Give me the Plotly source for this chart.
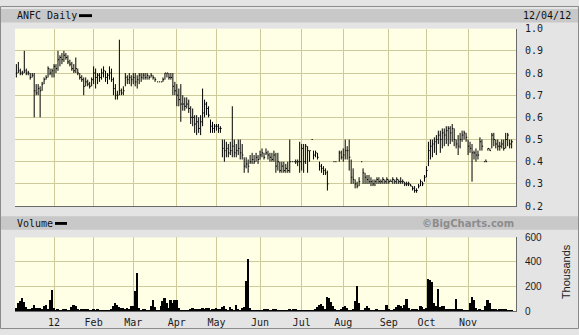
import plotly.graph_objects as go

# ---------------- data ----------------
month_starts = [19, 39, 59, 81, 101, 123, 144, 165, 188, 207, 228]
month_labels = ["12", "Feb", "Mar", "Apr", "May", "Jun", "Jul", "Aug", "Sep", "Oct", "Nov"]
price_ticks = [0.2, 0.3, 0.4, 0.5, 0.6, 0.7, 0.8, 0.9, 1.0]
price_labels = ["0.2", "0.3", "0.4", "0.5", "0.6", "0.7", "0.8", "0.9", "1.0"]
vol_ticks = [0, 200, 400, 600]
vol_labels = ["0", "200", "400", "600"]

high = [
    .84, .85, .82, .81, .90, .82, .81, .80, .80, .80,
    .75, .75, .74, .76, .78, .79, .83, .82, .82, .84,
    .84, .90, .88, .89, .90, .89, .88, .86, .85, .84,
    .87, .82, .80, .79, .78, .78, .77, .76, .78, .83,
    .82, .80, .80, .82, .83, .81, .80, .83, .82, .78,
    .75, .72, .95, .73, .74, .80, .79, .80, .79, .80,
    .80, .79, .80, .80, .80, .80, .80, .79, .80, .79,
    .78, .76, .76, .76, .78, .80, .80, .80, .80, .80,
    .76, .75, .73, .75, .70, .69, .69, .68, .65, .64,
    .61, .61, .60, .61, .73, .68, .67, .65, .59, .58,
    .57, .57, .57, .56, .50, .50, .49, .48, .49, .65,
    .50, .48, .50, .50, .48, .42, .42, .41, .43, .44,
    .43, .44, .43, .45, .46, .44, .46, .45, .44, .44,
    .45, .44, .44, .40, .40, .40, .39, .40, .50, .40,
    .40, .41, .41, .49, .48, .48, .48, .47, .45, .50,
    .45, .45, .44, .40, .39, .38, .37, .36, None, None,
    .40, .40, None, .45, .45, .46, .50, .47, .50, .41,
    .37, .32, .31, .33, .40, .37, .35, .34, .34, .33,
    .32, .32, .33, .33, .32, .33, .32, .33, .32, .32,
    .33, .32, .33, .32, .33, .32, .31, .31, .31, .30,
    .29, .29, .28, .30, .32, .31, .34, .38, .49, .50,
    .50, .51, .52, .54, .54, .55, .55, .56, .56, .56,
    .57, .55, .50, .52, .53, .54, .54, .53, .50, .49,
    .48, .45, .46, .45, .51, .50, .40, .41, .46, .46,
    .53, .53, .50, .50, .49, .50, .50, .53, .53, .50,
    .50]

low = [
    .78, .80, .79, .79, .80, .79, .79, .77, .78, .60,
    .70, .70, .60, .72, .75, .77, .78, .79, .78, .78,
    .80, .81, .83, .84, .85, .86, .84, .83, .81, .80,
    .80, .79, .77, .76, .70, .74, .74, .73, .74, .75,
    .73, .75, .76, .77, .78, .76, .75, .77, .76, .70,
    .68, .68, .70, .70, .70, .74, .75, .75, .74, .75,
    .74, .73, .75, .76, .77, .77, .77, .77, .78, .77,
    .76, .76, .76, .76, .76, .77, .78, .77, .77, .70,
    .70, .65, .65, .58, .63, .63, .64, .62, .57, .56,
    .53, .52, .53, .52, .56, .60, .61, .60, .53, .53,
    .53, .54, .53, .53, .42, .40, .42, .42, .43, .42,
    .42, .42, .43, .41, .41, .35, .37, .35, .39, .39,
    .39, .40, .39, .41, .42, .41, .43, .41, .40, .40,
    .40, .35, .36, .35, .35, .35, .35, .35, .35, .40,
    .40, .39, .38, .35, .36, .35, .39, .35, .40, .50,
    .41, .42, .41, .36, .35, .34, .34, .27, None, None,
    .40, .40, None, .40, .41, .40, .41, .41, .36, .30,
    .30, .28, .28, .29, .40, .30, .30, .30, .30, .29,
    .29, .29, .30, .30, .30, .30, .30, .30, .30, .31,
    .30, .30, .30, .30, .30, .30, .29, .29, .29, .29,
    .27, .26, .26, .28, .29, .29, .31, .33, .38, .41,
    .42, .44, .43, .48, .44, .46, .47, .48, .47, .48,
    .49, .47, .46, .43, .46, .49, .50, .49, .43, .44,
    .31, .41, .40, .41, .45, .45, .40, .40, .45, .45,
    .46, .47, .46, .45, .45, .46, .45, .46, .47, .46,
    .46]

close = [
    .80, .81, .80, .80, .81, .80, .80, .78, .79, .72,
    .71, .73, .72, .75, .77, .78, .82, .80, .81, .83,
    .82, .86, .87, .86, .88, .87, .85, .84, .82, .81,
    .82, .80, .78, .77, .74, .76, .75, .74, .77, .80,
    .78, .79, .78, .80, .81, .78, .79, .80, .77, .73,
    .70, .70, .72, .71, .72, .78, .77, .78, .77, .78,
    .76, .77, .79, .78, .79, .78, .79, .78, .79, .78,
    .77, .76, .76, .76, .77, .80, .80, .78, .78, .74,
    .72, .70, .68, .66, .66, .65, .66, .64, .60, .60,
    .57, .58, .55, .58, .62, .66, .64, .61, .56, .55,
    .56, .56, .55, .55, .46, .45, .46, .44, .45, .47,
    .44, .45, .46, .44, .43, .38, .39, .38, .40, .41,
    .40, .42, .41, .43, .44, .42, .44, .43, .42, .41,
    .43, .38, .40, .36, .38, .36, .37, .36, .40, .40,
    .40, .40, .40, .40, .46, .40, .47, .45, .45, .50,
    .43, .44, .42, .38, .37, .36, .35, .30, None, None,
    .40, .40, None, .44, .42, .43, .45, .45, .42, .33,
    .32, .30, .29, .31, .40, .35, .33, .32, .31, .31,
    .30, .31, .32, .31, .31, .32, .31, .32, .31, .31,
    .32, .31, .32, .31, .31, .31, .30, .30, .30, .29,
    .28, .27, .27, .29, .31, .30, .33, .36, .45, .47,
    .48, .49, .50, .52, .50, .53, .52, .54, .55, .53,
    .55, .50, .48, .47, .50, .52, .53, .51, .47, .46,
    .44, .44, .43, .43, .49, .47, .40, .40, .46, .45,
    .52, .50, .48, .47, .47, .48, .46, .50, .52, .48,
    .49]

volume = [
    20, 60, 80, 105, 70, 30, 15, 12, 25, 50, 20, 25, 20, 10, 35, 50, 10, 90, 170, 20,
    5, 8, 5, 3, 10, 8, 3, 5, 30, 45, 40, 15, 5, 8, 12, 15, 10, 4, 3, 8,
    5, 10, 3, 2, 3, 2, 5, 3, 10, 40, 65, 45, 30, 20, 25, 15, 20, 10, 35, 40,
    160, 310, 20, 5, 10, 8, 3, 5, 40, 90, 30, 3, 5, 40, 80, 100, 60, 20, 90, 65,
    90, 85, 20, 5, 3, 2, 5, 3, 15, 20, 15, 10, 18, 15, 20, 8, 25, 20, 5, 10,
    15, 25, 15, 8, 30, 35, 15, 5, 30, 10, 5, 45, 10, 3, 20, 30, 240, 425, 20, 5,
    3, 2, 5, 3, 5, 15, 18, 15, 5, 3, 10, 8, 3, 2, 5, 3, 2, 3, 8, 5,
    8, 10, 5, 3, 2, 3, 5, 3, 2, 3, 5, 10, 30, 45, 52, 40, 10, 112, 100, 70,
    40, 15, 5, 3, 10, 30, 40, 25, 5, 3, 10, 80, 200, 60, 5, 3, 20, 40, 25, 5,
    3, 5, 8, 3, 2, 3, 5, 45, 10, 5, 3, 8, 30, 50, 40, 20, 50, 95, 20, 5,
    15, 10, 15, 5, 35, 30, 10, 20, 260, 250, 230, 60, 40, 175, 30, 40, 35, 10, 15, 15,
    12, 10, 95, 15, 8, 10, 5, 3, 5, 60, 110, 90, 20, 3, 10, 3, 5, 40, 85, 60,
    10, 8, 10, 5, 8, 10, 8, 10, 5, 3, 2]

N = len(high)
assert len(low) == N and len(close) == N and len(volume) == N
days = list(range(N))

# ---------------- geometry helpers ----------------
W, H = 579, 335
def px(x):
    return x / W
def py(y):
    return 1 - y / H

X_RANGE = [-0.69, 252.2]
MONO = "DejaVu Sans Mono"
GRID = "#cdcb9c"
AXLINE = "#6a6a6a"

# HLC bars built from the data arrays
bx, by = [], []
for d, h, l, c in zip(days, high, low, close):
    if h is None:
        continue
    bx += [d, d, None, d, d + 0.6, None]
    by += [l, h, None, c, c, None]

fig = go.Figure()
fig.add_trace(go.Scatter(x=bx, y=by, mode="lines", line=dict(color="black", width=1),
                         xaxis="x", yaxis="y", hoverinfo="skip", connectgaps=False))
fig.add_trace(go.Bar(x=days, y=volume, width=1.0, marker=dict(color="black", line=dict(width=0)),
                     xaxis="x2", yaxis="y2", hoverinfo="skip"))

fig.update_layout(
    width=W, height=H, margin=dict(l=0, r=0, t=0, b=0),
    paper_bgcolor="#e4e4e4", plot_bgcolor="#ffffe6", showlegend=False, bargap=0,
    xaxis=dict(domain=[px(15), px(516)], range=X_RANGE, anchor="y",
               tickvals=month_starts, showticklabels=False, ticks="",
               showgrid=True, gridcolor=GRID, gridwidth=1, zeroline=False,
               showline=True, linecolor=AXLINE, linewidth=1),
    yaxis=dict(domain=[py(207.5), py(23.5)], range=[0.2, 1.0], anchor="x", side="right",
               tickvals=price_ticks, ticktext=price_labels, ticks="", ticklabelstandoff=6,
               tickfont=dict(family=MONO, size=10, color="#1a1a1a"),
               showgrid=True, gridcolor=GRID, gridwidth=1, zeroline=False,
               showline=True, linecolor=AXLINE, linewidth=1),
    xaxis2=dict(domain=[px(15), px(516)], range=X_RANGE, anchor="y2",
                tickvals=month_starts, ticktext=month_labels, ticks="", ticklabelstandoff=2,
                tickfont=dict(family=MONO, size=10, color="#1a1a1a"),
                showgrid=True, gridcolor=GRID, gridwidth=1, zeroline=False,
                showline=True, linecolor=AXLINE, linewidth=1),
    yaxis2=dict(domain=[py(316.5), py(240)], range=[0, 600], anchor="x2", side="right",
                tickvals=vol_ticks, ticktext=vol_labels, ticks="", ticklabelstandoff=6,
                tickfont=dict(family="Liberation Sans", size=10, color="#1a1a1a"),
                showgrid=True, gridcolor=GRID, gridwidth=1, zeroline=False,
                showline=True, linecolor=AXLINE, linewidth=1),
)

shapes = [
    # header bands
    dict(type="rect", xref="paper", yref="paper", x0=0, x1=1, y0=py(17), y1=py(3),
         fillcolor="#c8c8c8", line=dict(width=0), layer="below"),
    dict(type="rect", xref="paper", yref="paper", x0=0, x1=1, y0=py(232), y1=py(218),
         fillcolor="#c8c8c8", line=dict(width=0), layer="below"),
    # legend dashes
    dict(type="rect", xref="paper", yref="paper", x0=px(79), x1=px(92), y0=py(11.5), y1=py(8.5),
         fillcolor="black", line=dict(width=0)),
    dict(type="rect", xref="paper", yref="paper", x0=px(55), x1=px(67), y0=py(227), y1=py(224),
         fillcolor="black", line=dict(width=0)),
    # outer frame
    dict(type="rect", xref="paper", yref="paper", x0=px(0.5), x1=px(578.5), y0=py(334.5), y1=py(0.5),
         line=dict(color="#8a8a8a", width=1), fillcolor="rgba(0,0,0,0)"),
]
fig.update_layout(shapes=shapes)

ann = [
    dict(text="ANFC Daily", x=px(15), y=py(10), xanchor="left", yanchor="middle",
         font=dict(family=MONO, size=10, color="#111")),
    dict(text="12/04/12", x=px(573), y=py(10), xanchor="right", yanchor="middle",
         font=dict(family=MONO, size=10, color="#111")),
    dict(text="Volume", x=px(15), y=py(225.5), xanchor="left", yanchor="middle",
         font=dict(family=MONO, size=10, color="#111")),
    dict(text="<b>©BigCharts.com</b>", x=px(516), y=py(225.5), xanchor="right", yanchor="middle",
         font=dict(family="DejaVu Sans", size=10, color="#8c8c8c")),
    dict(text="Thousands", x=px(566), y=py(276), xanchor="center", yanchor="middle", textangle=-90,
         font=dict(family="Liberation Sans", size=11, color="#1a1a1a")),
]
for a in ann:
    a.update(xref="paper", yref="paper", showarrow=False)
fig.update_layout(annotations=ann)

fig.write_html("out.html")
